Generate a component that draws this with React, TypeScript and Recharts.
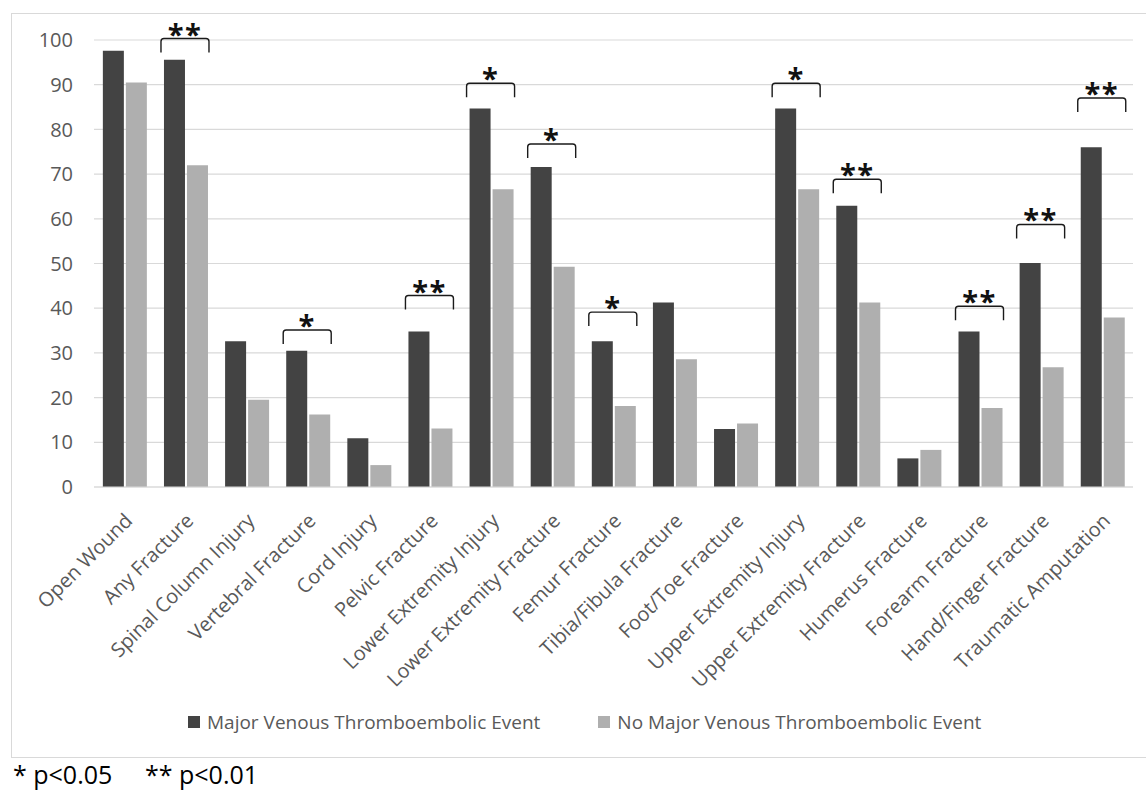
import { Bar, BarChart, CartesianGrid, Legend, XAxis, YAxis } from "recharts"

const categories = [
    "Open Wound",
    "Any Fracture",
    "Spinal Column Injury",
    "Vertebral Fracture",
    "Cord Injury",
    "Pelvic Fracture",
    "Lower Extremity Injury",
    "Lower Extremity Fracture",
    "Femur Fracture",
    "Tibia/Fibula Fracture",
    "Foot/Toe Fracture",
    "Upper Extremity Injury",
    "Upper Extremity Fracture",
    "Humerus Fracture",
    "Forearm Fracture",
    "Hand/Finger Fracture",
    "Traumatic Amputation",
]

const majorVte = [97.6, 95.6, 32.6, 30.5, 10.9, 34.8, 84.7, 71.6, 32.6, 41.3, 13.0, 84.7, 62.9, 6.4, 34.8, 50.1, 76.0]
const noMajorVte = [90.5, 72.0, 19.5, 16.2, 4.9, 13.1, 66.6, 49.3, 18.1, 28.6, 14.2, 66.6, 41.3, 8.3, 17.7, 26.8, 37.9]

// significance marks and the level (bottom of the bracket legs) they sit at
const significance = ["", "**", "", "*", "", "**", "*", "*", "*", "", "", "*", "**", "", "**", "**", "**"]
const bracketLevel = [null, 97.2, null, 32.0, null, 39.7, 87.2, 73.6, 36.0, null, null, 87.2, 65.7, null, 37.3, 55.6, 83.9]

const yTicks = [0, 10, 20, 30, 40, 50, 60, 70, 80, 90, 100]

const seriesNames = ["Major Venous Thromboembolic Event", "No Major Venous Thromboembolic Event"]

const data = categories.map((name, i) => ({
    name,
    major: majorVte[i],
    noMajor: noMajorVte[i],
    sig: significance[i],
    bracket: bracketLevel[i],
}))

const FONT = "'Open Sans', sans-serif"
const DARK = "#434343"
const LIGHT = "#afafaf"
const TEXT = "#595959"

function CategoryTick(props: any) {
    const { x, y, payload } = props
    const tx = x + 9
    const ty = y + 35
    return (
        <text
            x={tx}
            y={ty}
            transform={`rotate(-45, ${tx}, ${ty})`}
            textAnchor="end"
            fontSize={20}
            fontFamily={FONT}
            fill={TEXT}
        >
            {payload.value}
        </text>
    )
}

function BracketShape(props: any) {
    const { x, y, width, payload } = props
    if (payload == null || payload.bracket == null || !payload.sig) return <g />
    const x0 = x - 3
    const x1 = x + width + 2
    const top = y - 14
    const d = `M${x0},${y} L${x0},${top + 3} Q${x0},${top} ${x0 + 3},${top} L${x1 - 3},${top} Q${x1},${top} ${x1},${top + 3} L${x1},${y}`
    return (
        <g>
            <path d={d} fill="none" stroke="#1a1a1a" strokeWidth={1.4} />
            <text
                x={(x0 + x1) / 2}
                y={top + 6}
                textAnchor="middle"
                fontSize={29}
                fontWeight={700}
                letterSpacing={1.5}
                fontFamily={FONT}
                fill="#111"
            >
                {payload.sig}
            </text>
        </g>
    )
}

function LegendContent() {
    const colors = [DARK, LIGHT]
    return (
        <div style={{ display: "flex", alignItems: "center", height: 30, paddingLeft: 188 }}>
            {seriesNames.map((n, i) => (
                <div key={n} style={{ display: "flex", alignItems: "center", marginRight: i === 0 ? 58 : 0 }}>
                    <span style={{ width: 12, height: 12, background: colors[i], marginRight: 7, display: "inline-block" }} />
                    <span style={{ fontFamily: FONT, fontSize: 19, color: TEXT, whiteSpace: "nowrap" }}>{n}</span>
                </div>
            ))}
        </div>
    )
}

export default function App() {
    return (
        <div style={{ position: "relative", width: 1146, height: 792, overflow: "hidden", background: "#fff" }}>
            <style>{"body{margin:0;}"}</style>
            <div
                style={{
                    position: "absolute",
                    left: 11,
                    top: 13,
                    width: 1150,
                    height: 743,
                    border: "1px solid #d9d9d9",
                }}
            />
            <div style={{ position: "absolute", left: 0, top: 0 }}>
                <BarChart
                    width={1146}
                    height={792}
                    data={data}
                    margin={{ top: 40, right: 13, left: 0, bottom: 55 }}
                    barCategoryGap="14.5%"
                    barGap={2}
                >
                    <CartesianGrid vertical={false} stroke="#d9d9d9" strokeWidth={1.2} />
                    <XAxis
                        dataKey="name"
                        interval={0}
                        height={220}
                        tickSize={0}
                        tickMargin={0}
                        tickLine={false}
                        axisLine={{ stroke: "#d9d9d9", strokeWidth: 1.2 }}
                        tick={<CategoryTick />}
                    />
                    <XAxis xAxisId="br" dataKey="name" hide />
                    <YAxis
                        width={94}
                        domain={[0, 100]}
                        ticks={yTicks}
                        axisLine={false}
                        tickLine={false}
                        tickSize={0}
                        tickMargin={21}
                        tick={{ fill: TEXT, fontSize: 20, fontFamily: FONT }}
                    />
                    <Legend verticalAlign="bottom" content={<LegendContent />} wrapperStyle={{ left: 0, width: 1146 }} />
                    <Bar dataKey="major" name={seriesNames[0]} fill={DARK} isAnimationActive={false} />
                    <Bar dataKey="noMajor" name={seriesNames[1]} fill={LIGHT} isAnimationActive={false} />
                    <Bar
                        xAxisId="br"
                        dataKey="bracket"
                        legendType="none"
                        shape={<BracketShape />}
                        isAnimationActive={false}
                    />
                </BarChart>
            </div>
            <div
                style={{
                    position: "absolute",
                    left: 13,
                    top: 760,
                    fontFamily: FONT,
                    fontSize: 25,
                    lineHeight: "28px",
                    color: "#000",
                    whiteSpace: "nowrap",
                }}
            >
                <span>* p&lt;0.05</span>
                <span style={{ position: "absolute", left: 132 }}>** p&lt;0.01</span>
            </div>
        </div>
    )
}
